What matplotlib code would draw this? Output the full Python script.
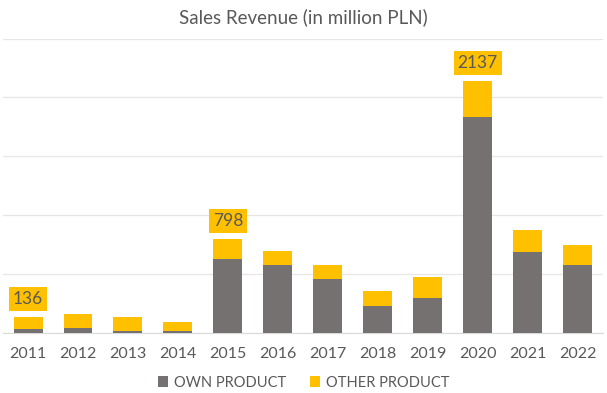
import matplotlib.pyplot as plt
import numpy as np

years = ["2011", "2012", "2013", "2014", "2015", "2016", "2017", "2018", "2019", "2020", "2021", "2022"]
own_product = [39, 45, 22, 20, 626, 580, 457, 231, 299, 1833, 688, 578]
other_product = [97, 116, 119, 73, 172, 116, 118, 127, 180, 304, 192, 169]
labelled = {"2011": 136, "2015": 798, "2020": 2137}

GRAY = "#767171"
YELLOW = "#FFC000"
TEXT = "#595959"

plt.rcParams["font.family"] = ["Lato", "DejaVu Sans"]

fig = plt.figure(figsize=(6.07, 3.93), dpi=100)
ax = fig.add_axes([0.005, 0.152, 0.988, 0.75])

x = np.arange(len(years))
ax.bar(x, own_product, width=0.58, color=GRAY, label="OWN PRODUCT", zorder=3)
ax.bar(x, other_product, width=0.58, bottom=own_product, color=YELLOW,
       label="OTHER PRODUCT", zorder=3)

totals = np.array(own_product) + np.array(other_product)
for i, yr in enumerate(years):
    if yr in labelled:
        ax.annotate(str(labelled[yr]), (x[i], totals[i]), xytext=(0, 13),
                    textcoords="offset points", ha="center", va="center",
                    fontsize=12.5, color=TEXT, zorder=4,
                    bbox=dict(boxstyle="square,pad=0.22", fc=YELLOW, ec="none"))

ax.set_xlim(-0.5, len(years) - 0.5)
ax.set_ylim(0, 2500)
ax.set_yticks(np.arange(0, 2501, 500))
ax.yaxis.grid(True, color="#E6E6E6", linewidth=0.9, zorder=0)
ax.tick_params(axis="y", left=False, labelleft=False)
ax.tick_params(axis="x", length=0, pad=10, labelsize=11.5, labelcolor=TEXT)
ax.set_xticks(x)
ax.set_xticklabels(years)
for s in ["top", "right", "left"]:
    ax.spines[s].set_visible(False)
ax.spines["bottom"].set_color("#D9D9D9")

fig.suptitle("Sales Revenue (in million PLN)", y=0.978, fontsize=13.5, color=TEXT)
fig.legend(loc="lower center", bbox_to_anchor=(0.5, -0.025), ncol=2, frameon=False,
           fontsize=10.5, labelcolor=TEXT, handlelength=0.7, handleheight=0.7,
           handletextpad=0.4, columnspacing=1.6)

fig.savefig("out.png", dpi=100)
